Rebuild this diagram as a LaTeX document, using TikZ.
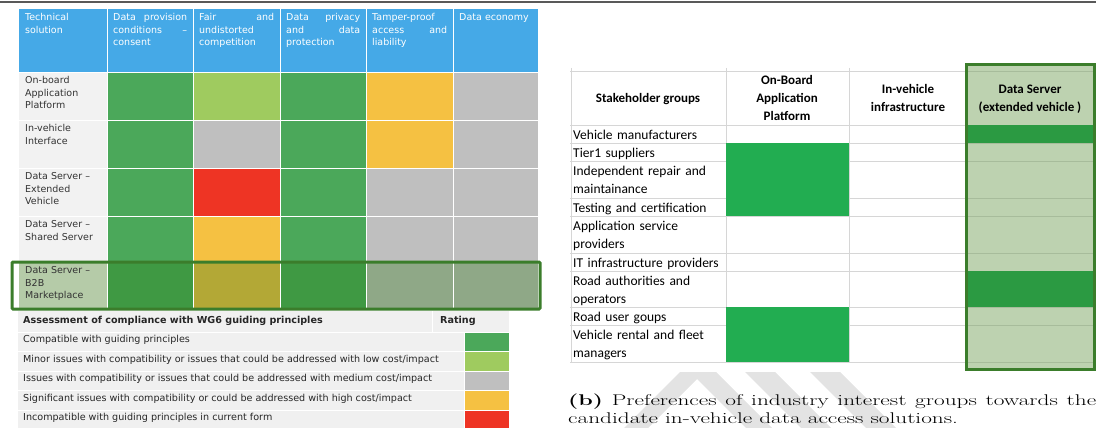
\documentclass[tikz,border=0pt]{standalone}
\usepackage{fontspec}
\usepackage{graphicx}
\newfontfamily\wgfont{DejaVu Sans}
\newfontfamily\xlfont{Carlito}

\definecolor{hdrblue}{HTML}{45A9E7}
\definecolor{okgreen}{HTML}{4BA85A}
\definecolor{minorgreen}{HTML}{9FCB5F}
\definecolor{midgray}{HTML}{BFBFBF}
\definecolor{sigyellow}{HTML}{F5C142}
\definecolor{badred}{HTML}{EE3424}
\definecolor{labelbg}{HTML}{F2F2F2}
\definecolor{keybg}{HTML}{F0F0F0}
\definecolor{boxgreen}{HTML}{3B7D2B}
\definecolor{selsage}{HTML}{B5CBA8}
\definecolor{seldark}{HTML}{3F9943}
\definecolor{selolive}{HTML}{B3A836}
\definecolor{selgray}{HTML}{8FA887}
\definecolor{prefgreen}{HTML}{22AD51}
\definecolor{dsgreen}{HTML}{2B9A42}
\definecolor{dslight}{HTML}{BDD2B0}
\definecolor{dsline}{HTML}{A7BC9B}
\definecolor{gridgray}{HTML}{D6D6D6}
\definecolor{wmgray}{HTML}{E3E3E3}

\tikzset{
  hdrtext/.style={anchor=north west, inner sep=0pt, text=white, align=left,
    font=\wgfont\fontsize{9.5}{12.4}\selectfont},
  soltext/.style={anchor=north west, inner sep=0pt, text=black!80, align=left,
    text width=80pt, font=\wgfont\fontsize{9.5}{12.4}\selectfont},
  keytext/.style={anchor=base west, inner sep=0pt, text=black!85,
    font=\wgfont\fontsize{9.6}{12}\selectfont},
  keyhead/.style={keytext, font=\wgfont\bfseries\fontsize{9.6}{12}\selectfont},
  cellsep/.style={white, line width=0.8pt},
  gridline/.style={gridgray, line width=0.8pt},
  grouptext/.style={anchor=base west, inner sep=0pt, align=left, text width=150pt,
    font=\xlfont\fontsize{13.5}{18.3}\selectfont},
  colhead/.style={anchor=base, inner sep=0pt, align=center,
    font=\xlfont\bfseries\fontsize{13}{18}\selectfont},
  selbox/.style={boxgreen, line width=3pt}
}

\begin{document}
\begin{tikzpicture}[x=1pt,y=-1pt]
\useasboundingbox (0,0) rectangle (1096,428);
\draw[line width=1.6pt, black!65] (0,2) -- (1096,2);

% compliance table
\fill[hdrblue] (19,9) rectangle (538,72);
\fill[labelbg] (19,72) rectangle (107,262);
\fill[selsage] (19,262) rectangle (107,310);
\foreach \t/\b/\ca/\cb/\cc/\cd/\ce in {
   72/120/okgreen/minorgreen/okgreen/sigyellow/midgray,
  120/168/okgreen/midgray/okgreen/sigyellow/midgray,
  168/216/okgreen/badred/okgreen/midgray/midgray,
  216/262/okgreen/sigyellow/okgreen/midgray/midgray,
  262/310/seldark/selolive/seldark/selgray/selgray}{
  \fill[\ca] (107,\t) rectangle (193,\b);
  \fill[\cb] (193,\t) rectangle (280,\b);
  \fill[\cc] (280,\t) rectangle (366,\b);
  \fill[\cd] (366,\t) rectangle (453,\b);
  \fill[\ce] (453,\t) rectangle (538,\b);
}
\foreach \y in {72,120,168,216,262}
  \draw[cellsep] (19,\y) -- (538,\y);
\foreach \x in {107,193,280,366,453}
  \draw[cellsep] (\x,9) -- (\x,310);

\node[hdrtext, text width=76pt] (hTech) at (25,13.5) {Technical\\solution};
\node[hdrtext, text width=74pt] (hConsent) at (113,13.5) {Data\hfill provision\\conditions\hfill –\\consent};
\node[hdrtext, text width=75pt] (hFair) at (199,13.5) {Fair\hfill and\\undistorted\\competition};
\node[hdrtext, text width=74pt] (hPrivacy) at (286,13.5) {Data\hfill privacy\\and\hfill data\\protection};
\node[hdrtext, text width=75pt] (hTamper) at (372,13.5) {Tamper-proof\\access\hfill and\\liability};
\node[hdrtext, text width=74pt] (hEconomy) at (459,13.5) {Data economy};

\node[soltext] (sOnboard) at (25,76.5) {On-board\\Application\\Platform};
\node[soltext] (sInterface) at (25,124.5) {In-vehicle\\Interface};
\node[soltext] (sExtended) at (25,172.5) {Data Server –\\Extended\\Vehicle};
\node[soltext] (sShared) at (25,220.5) {Data Server –\\Shared Server};
\node[soltext] (sMarket) at (25,266.5) {Data Server –\\B2B\\Marketplace};

\draw[selbox, rounded corners=1pt] (12,262) rectangle (540,309);

% legend
\fill[keybg] (18,311) rectangle (509,430);
\foreach \t/\b/\c in {332/351/okgreen, 351/371/minorgreen, 371/390/midgray,
                      390/410/sigyellow, 410/430/badred}
  \fill[\c] (464,\t) rectangle (509,\b);
\foreach \y in {332,351,371,390,410}
  \draw[cellsep] (18,\y) -- (509,\y);
\draw[cellsep] (464,332) -- (464,430);
\draw[cellsep] (432,311) -- (432,332);

\node[keyhead] (kHead) at (23,323.5) {Assessment of compliance with WG6 guiding principles};
\node[keyhead] (kRating) at (440,323.5) {Rating};
\node[keytext] (kOk) at (23,342.7) {Compatible with guiding principles};
\node[keytext] (kMinor) at (23,362.2) {Minor issues with compatibility or issues that could be addressed with low cost/impact};
\node[keytext] (kMedium) at (23,381.7) {Issues with compatibility or issues that could be addressed with medium cost/impact};
\node[keytext] (kHigh) at (23,401.2) {Significant issues with compatibility or could be addressed with high cost/impact};
\node[keytext] (kBad) at (23,420.7) {Incompatible with guiding principles in current form};

% watermark behind the caption
\begin{scope}
\clip (560,366) rectangle (1096,428);
\fill[wmgray] (680,372) -- (704,372) -- (648,428) -- (624,428) -- cycle;
\fill[wmgray] (690,372) -- (716,372) -- (772,428) -- (746,428) -- cycle;
\fill[wmgray] (745,372) -- (775,372) -- (831,428) -- (801,428) -- cycle;
\fill[wmgray] (810,372) -- (840,372) -- (896,428) -- (866,428) -- cycle;
\end{scope}

% preference table
\fill[dslight] (966,64) rectangle (1094,370);
\foreach \y in {71,125,143,161,198,216,253,271,307,325,362}{
  \draw[gridline] (570,\y) -- (966,\y);
  \draw[dsline, line width=0.8pt] (968,\y) -- (1093,\y);
}
\foreach \x in {571,726,849}
  \draw[gridline] (\x,68) -- (\x,362);
\fill[prefgreen] (726,143) rectangle (849,216);
\fill[prefgreen] (726,307) rectangle (849,362);
\fill[dsgreen] (968,125) rectangle (1093,143);
\fill[dsgreen] (968,271) rectangle (1093,307);
\draw[selbox] (966.5,64.5) rectangle (1094.5,369.5);

\node[colhead] (hGroups) at (648,102.7) {Stakeholder groups};
\node[colhead] (hOnBoard) at (787,121) {On-Board\\Application\\Platform};
\node[colhead] (hInVeh) at (908,111.7) {In-vehicle\\infrastructure};
\node[colhead] (hDataSrv) at (1030,111.7) {Data Server\\(extended vehicle )};

\node[grouptext] (gVM) at (573,139.5) {Vehicle manufacturers};
\node[grouptext] (gTier) at (573,157.5) {Tier1 suppliers};
\node[grouptext] (gRepair) at (573,175.5) {Independent repair and\\maintainance};
\node[grouptext] (gTest) at (573,212.5) {Testing and certification};
\node[grouptext] (gApp) at (573,230.5) {Application service\\providers};
\node[grouptext] (gIT) at (573,267.5) {IT infrastructure providers};
\node[grouptext] (gRoad) at (573,285.5) {Road authorities and\\operators};
\node[grouptext] (gUser) at (573,321.5) {Road user goups};
\node[grouptext] (gRental) at (573,339.5) {Vehicle rental and fleet\\managers};

\node[anchor=base west, inner sep=0pt] (capB) at (568,405)
  {\scalebox{1.5}[1]{\parbox[t]{352pt}{\fontsize{15.5}{18.3}\selectfont
   \textbf{(b)} Preferences of industry interest groups towards the\linebreak
   candidate in-vehicle data access solutions.}}};
\end{tikzpicture}
\end{document}
